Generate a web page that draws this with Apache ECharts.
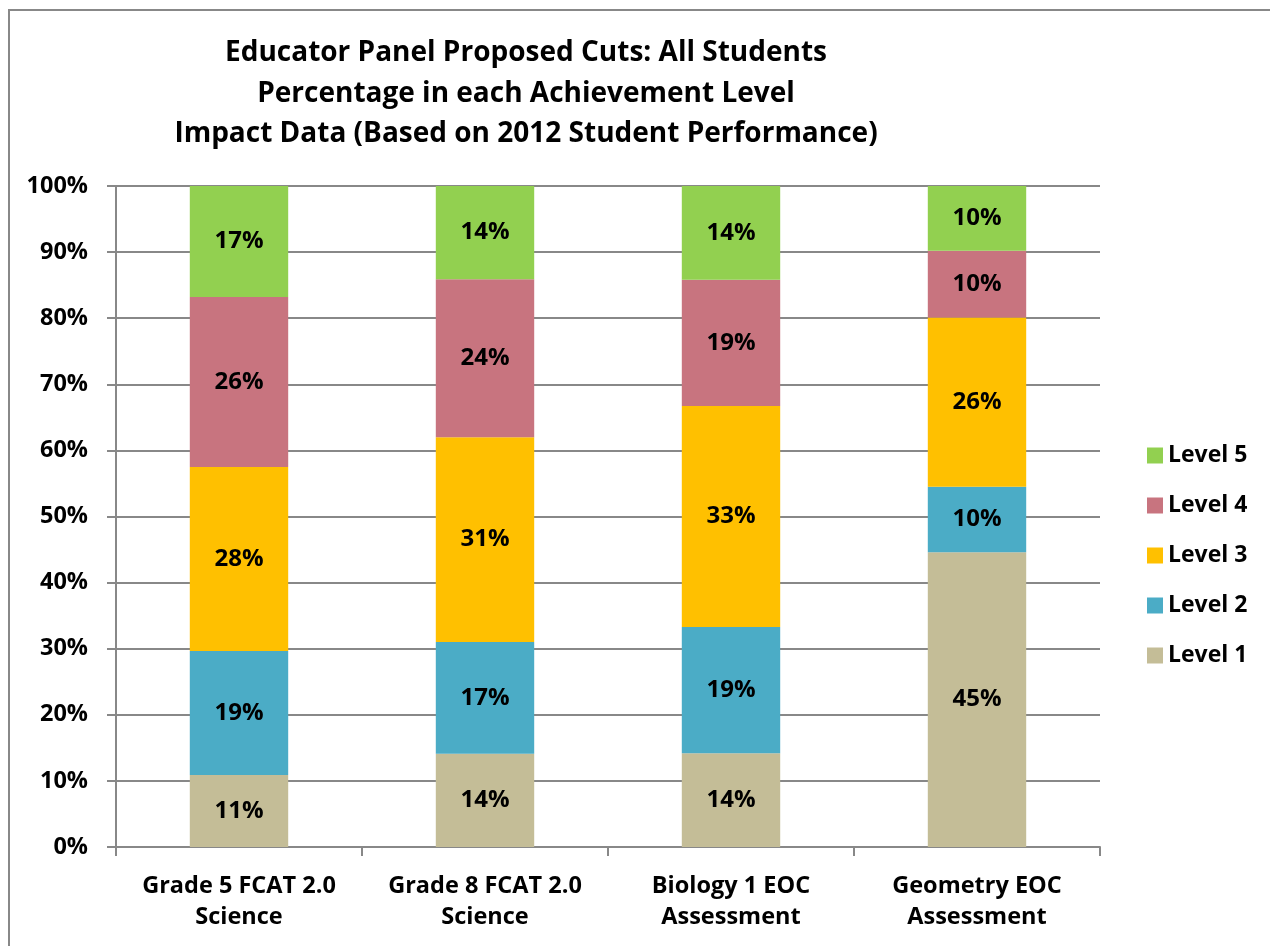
<!DOCTYPE html>
<html>
<head>
<meta charset="utf-8">
<script src="https://cdn.jsdelivr.net/npm/echarts@6/dist/echarts.min.js"></script>
<style>
html, body { margin: 0; padding: 0; background: #fff; }
#main { width: 1270px; height: 946px; }
</style>
</head>
<body>
<div id="main"></div>
<script>
// categories and values (percent of students)
var categories = ['Grade 5 FCAT 2.0\nScience', 'Grade 8 FCAT 2.0\nScience', 'Biology 1 EOC\nAssessment', 'Geometry EOC\nAssessment'];
var level1 = [10.9, 14.1, 14.2, 44.6];
var level2 = [18.75, 16.9, 19.1, 9.9];
var level3 = [27.85, 31.0, 33.4, 25.6];
var level4 = [25.7, 23.9, 19.1, 10.1];
var level5 = [16.8, 14.1, 14.2, 9.8];
var yTicks = [0, 10, 20, 30, 40, 50, 60, 70, 80, 90, 100];

var fontName = 'Open Sans';
var colors = {
    'Level 1': '#C4BD97',
    'Level 2': '#4BACC6',
    'Level 3': '#FFC000',
    'Level 4': '#C8747F',
    'Level 5': '#92D050'
};

function makeSeries(name, data) {
    return {
        name: name,
        type: 'bar',
        stack: 'all',
        barWidth: '40%',
        data: data,
        itemStyle: { color: colors[name] },
        label: {
            show: true,
            position: 'inside',
            color: '#000',
            fontFamily: fontName,
            fontWeight: 'bold',
            fontSize: 24,
            formatter: function (p) { return Math.round(p.value) + '%'; }
        }
    };
}

var chart = echarts.init(document.getElementById('main'));
var option = {
    animation: false,
    title: {
        text: 'Educator Panel Proposed Cuts: All Students\nPercentage in each Achievement Level\nImpact Data (Based on 2012 Student Performance)',
        left: 521,
        top: 28,
        textAlign: 'center',
        textStyle: {
            fontFamily: fontName,
            fontWeight: 'bold',
            fontSize: 28,
            lineHeight: 40.5,
            color: '#000'
        }
    },
    graphic: [{
        type: 'rect',
        shape: { x: 9, y: 10, width: 1300, height: 1000 },
        style: { fill: 'none', stroke: '#888', lineWidth: 2 },
        silent: true
    }],
    legend: {
        orient: 'vertical',
        left: 1142,
        top: 439,
        itemWidth: 16,
        itemHeight: 16,
        itemGap: 27,
        itemStyle: { borderWidth: 0 },
        icon: 'rect',
        data: ['Level 5', 'Level 4', 'Level 3', 'Level 2', 'Level 1'],
        textStyle: {
            fontFamily: fontName,
            fontWeight: 'bold',
            fontSize: 23,
            color: '#000'
        }
    },
    grid: { left: 116, top: 186, right: 170, bottom: 99, containLabel: false },
    xAxis: {
        type: 'category',
        data: categories,
        axisLine: { lineStyle: { color: '#888', width: 2 } },
        axisTick: { show: true, interval: 0, length: 9, lineStyle: { color: '#888', width: 2 } },
        axisLabel: {
            interval: 0,
            hideOverlap: false,
            color: '#000',
            fontFamily: fontName,
            fontWeight: 'bold',
            fontSize: 23.5,
            lineHeight: 31,
            margin: 24
        }
    },
    yAxis: {
        type: 'value',
        min: 0,
        max: 100,
        interval: 10,
        axisLine: { show: true, lineStyle: { color: '#888', width: 2 } },
        axisTick: { show: true, length: 9, lineStyle: { color: '#888', width: 2 } },
        splitLine: { lineStyle: { color: '#888', width: 2 } },
        axisLabel: {
            color: '#000',
            fontFamily: fontName,
            fontWeight: 'bold',
            fontSize: 23.5,
            margin: 28,
            formatter: function (v) { return yTicks.indexOf(v) >= 0 ? v + '%' : ''; }
        }
    },
    series: [
        makeSeries('Level 1', level1),
        makeSeries('Level 2', level2),
        makeSeries('Level 3', level3),
        makeSeries('Level 4', level4),
        makeSeries('Level 5', level5)
    ]
};
chart.setOption(option);
</script>
</body>
</html>
